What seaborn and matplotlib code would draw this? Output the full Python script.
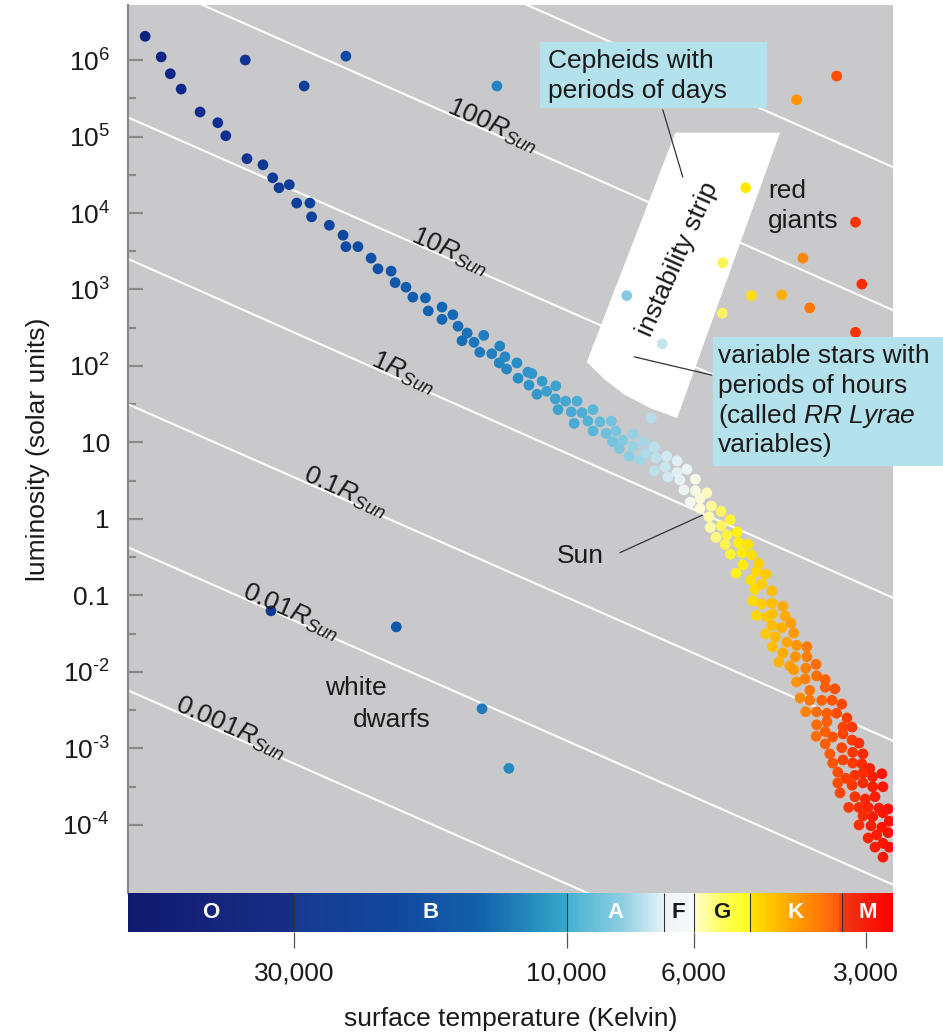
import numpy as np
import pandas as pd
import matplotlib
matplotlib.use("Agg")
import matplotlib.pyplot as plt
import seaborn as sns
from matplotlib.colors import LinearSegmentedColormap
from matplotlib.patches import Polygon, Rectangle
from matplotlib.ticker import FixedLocator, NullFormatter, NullLocator

# ---------------------------
# Data: log10(temperature / K) and log10(luminosity / L_sun)
# ---------------------------
ms_log_temp = [
    4.737, 4.709, 4.693, 4.674, 4.641, 4.610, 4.596, 4.559, 4.531, 4.514,
    4.503, 4.485, 4.472, 4.449, 4.446, 4.415, 4.391, 4.386, 4.365, 4.342,
    4.330, 4.307, 4.300, 4.281, 4.269, 4.247, 4.242, 4.218, 4.218, 4.199,
    4.190, 4.174, 4.183, 4.162, 4.145, 4.152, 4.131, 4.117, 4.118, 4.108,
    4.105, 4.087, 4.085, 4.068, 4.061, 4.066, 4.043, 4.052, 4.035, 4.019,
    4.020, 4.015, 4.002, 3.982, 3.992, 3.973, 3.954, 3.987, 3.963, 3.942,
    3.922, 3.954, 3.931, 3.914, 3.920, 3.902, 3.884, 3.908, 3.884, 3.865,
    3.891, 3.872, 3.862, 3.847, 3.844, 3.825, 3.807, 3.847, 3.828, 3.807,
    3.790, 3.823, 3.802, 3.775, 3.795, 3.775, 3.755, 3.784, 3.767, 3.747,
    3.767, 3.730, 3.751, 3.730, 3.714, 3.749, 3.739, 3.720, 3.702, 3.723,
    3.700, 3.683, 3.714, 3.694, 3.677, 3.704, 3.692, 3.664, 3.678, 3.668,
    3.652, 3.671, 3.659, 3.641, 3.675, 3.659, 3.641, 3.622, 3.668, 3.650,
    3.640, 3.618, 3.608, 3.641, 3.624, 3.603, 3.652, 3.635, 3.615, 3.598,
    3.580, 3.640, 3.622, 3.600, 3.580, 3.629, 3.610, 3.603, 3.582, 3.564,
    3.598, 3.583, 3.563, 3.548, 3.592, 3.575, 3.548, 3.531, 3.575, 3.554,
    3.536, 3.519, 3.582, 3.563, 3.545, 3.528, 3.510, 3.545, 3.563, 3.517,
    3.501, 3.564, 3.548, 3.535, 3.517, 3.501, 3.489, 3.548, 3.519, 3.500,
    3.482, 3.540, 3.535, 3.517, 3.500, 3.484, 3.470, 3.449, 3.526, 3.512,
    3.496, 3.482, 3.465, 3.526, 3.501, 3.482, 3.465, 3.447, 3.522, 3.496,
    3.478, 3.461, 3.507, 3.489, 3.473, 3.454, 3.438, 3.482, 3.465, 3.447,
    3.436, 3.489, 3.468, 3.449, 3.473, 3.458, 3.438, 3.461, 3.447, 3.436,
    3.447,
]
ms_log_lum = [
    6.31, 6.04, 5.82, 5.62, 5.32, 5.18, 5.01, 4.71, 4.63, 4.46,
    4.33, 4.37, 4.13, 4.13, 3.95, 3.84, 3.71, 3.56, 3.56, 3.41,
    3.27, 3.24, 3.09, 3.03, 2.90, 2.89, 2.72, 2.77, 2.61, 2.67,
    2.52, 2.43, 2.33, 2.31, 2.40, 2.18, 2.16, 2.26, 2.04, 2.12,
    1.96, 2.04, 1.84, 1.92, 1.90, 1.75, 1.80, 1.63, 1.67, 1.74,
    1.57, 1.43, 1.54, 1.54, 1.40, 1.39, 1.43, 1.25, 1.28, 1.27,
    1.28, 1.15, 1.12, 1.15, 1.01, 1.03, 1.11, 0.92, 0.95, 1.01,
    0.82, 0.77, 0.86, 0.94, 0.80, 0.82, 0.76, 0.63, 0.68, 0.61,
    0.65, 0.55, 0.51, 0.52, 0.38, 0.37, 0.34, 0.22, 0.27, 0.17,
    0.14, 0.10, 0.03, -0.09, -0.01, -0.11, -0.24, -0.21, -0.17, -0.33,
    -0.31, -0.33, -0.46, -0.44, -0.47, -0.71, -0.60, -0.58, -0.80, -0.69,
    -0.72, -0.92, -0.85, -0.94, -1.07, -1.11, -1.10, -1.14, -1.26, -1.28,
    -1.24, -1.27, -1.36, -1.39, -1.42, -1.49, -1.50, -1.54, -1.61, -1.65,
    -1.67, -1.67, -1.75, -1.80, -1.80, -1.87, -1.92, -1.97, -1.95, -1.90,
    -2.13, -2.09, -2.05, -2.10, -2.34, -2.24, -2.20, -2.22, -2.37, -2.37,
    -2.37, -2.42, -2.52, -2.52, -2.54, -2.54, -2.60, -2.65, -2.69, -2.72,
    -2.72, -2.84, -2.78, -2.85, -2.81, -2.89, -2.93, -2.94, -2.99, -3.05,
    -3.07, -3.07, -3.19, -3.15, -3.19, -3.20, -3.26, -3.33, -3.31, -3.39,
    -3.35, -3.32, -3.37, -3.45, -3.48, -3.45, -3.50, -3.50, -3.58, -3.63,
    -3.66, -3.63, -3.77, -3.77, -3.77, -3.78, -3.79, -3.88, -3.89, -3.84,
    -3.95, -4.00, -4.01, -4.03, -4.17, -4.13, -4.10, -4.29, -4.24, -4.29,
    -4.42,
]

supergiant_log_temp = [4.562, 4.459, 4.386, 4.122]
supergiant_log_lum = [6.00, 5.66, 6.05, 5.66]

giant_log_temp = [3.528, 3.598, 3.687, 3.495, 3.587, 3.727, 3.484, 3.677,
                  3.624, 3.728, 3.575, 3.495, 3.895, 3.833, 3.852]
giant_log_lum = [5.79, 5.48, 4.33, 3.88, 3.41, 3.35, 3.07, 2.92,
                 2.93, 2.69, 2.76, 2.44, 2.92, 2.29, 1.32]

dwarf_log_temp = [4.517, 4.298, 4.148, 4.101]
dwarf_log_lum = [-1.20, -1.41, -2.48, -3.26]

# lines of constant radius: log L at the hot and cool ends of the axis
radius_names = ["1000", "100", "10", "1", "0.1", "0.01", "0.001"]
radius_lum_hot = [9.03, 7.15, 5.25, 3.40, 1.50, -0.37, -2.24]
radius_lum_cool = [4.60, 2.73, 0.85, -1.03, -2.90, -4.78, -6.65]
radius_label_temp = [None, 4.134, 4.209, 4.291, 4.391, 4.487, 4.592]

log_temp_range = [4.767, 3.4295]
log_lum_range = [-4.889, 6.719]

lum_ticks = list(range(-4, 7))
lum_tick_labels = ["$10^{\u20104}$", "$10^{\u20103}$", "$10^{\u20102}$", "0.1", "1", "10",
                   "$10^{2}$", "$10^{3}$", "$10^{4}$", "$10^{5}$", "$10^{6}$"]

temp_ticks = [30000, 10000, 6000, 3000]
temp_tick_labels = ["30,000", "10,000", "6,000", "3,000"]

spectral_classes = ["O", "B", "A", "F", "G", "K", "M"]
spectral_edges = [30000, 10000, 6760, 6000, 4790, 3300]

strip_log_temp = [3.810, 3.627, 3.807, 3.854, 3.898, 3.933, 3.965]
strip_log_lum = [5.05, 5.05, 1.32, 1.45, 1.62, 1.82, 2.05]

# ---------------------------
# Style
# ---------------------------
sns.set_theme(style="white")
plt.rcParams["font.family"] = ["Liberation Sans", "DejaVu Sans"]
plt.rcParams["mathtext.fontset"] = "custom"
plt.rcParams["mathtext.rm"] = "Liberation Sans"
plt.rcParams["mathtext.it"] = "Liberation Sans:italic"
plt.rcParams["mathtext.bf"] = "Liberation Sans:bold"

TXT = "#1a1a1a"
GRAY_BG = "#c9c9cb"
BOX = "#b4e2ec"
FS = 19

t_hot, t_cool = log_temp_range
span = t_hot - t_cool


def stops_cmap(name, stops):
    pos = [(t - t_cool) / span for t, _ in stops]
    pos[0], pos[-1] = 0.0, 1.0
    return LinearSegmentedColormap.from_list(name, list(zip(pos, [c for _, c in stops])))


star_cmap = stops_cmap("stars", [
    (3.4295, "#ff0d00"), (3.470, "#ff2200"), (3.522, "#ff4a00"), (3.575, "#ff7a00"),
    (3.618, "#ffaa00"), (3.662, "#ffd400"), (3.697, "#fff000"), (3.732, "#fff56a"),
    (3.758, "#fffbc8"), (3.784, "#f2f6f2"), (3.811, "#dceef3"), (3.854, "#b0dce9"),
    (3.907, "#7cc6e0"), (3.977, "#4aaed6"), (4.082, "#2a8fc6"), (4.204, "#1569b5"),
    (4.379, "#0c4aa3"), (4.554, "#0c3593"), (4.767, "#0b1f80"),
])

bar_cmap = stops_cmap("spectral", [
    (3.4295, "#ff0000"), (3.518, "#ee3a14"), (3.520, "#ff5a10"), (3.600, "#ffa000"),
    (3.679, "#ffe600"), (3.681, "#ffff20"), (3.720, "#ffff50"), (3.777, "#ffffd0"),
    (3.779, "#f6f9f9"), (3.829, "#eef5f7"), (3.831, "#e4f2f6"), (3.900, "#8fcfe2"),
    (3.999, "#46b0d2"), (4.001, "#35a8cc"), (4.150, "#1262aa"), (4.300, "#11489e"),
    (4.476, "#163a90"), (4.478, "#172e86"), (4.767, "#111a6e"),
])

# ---------------------------
# Figure layout
# ---------------------------
W, H = 943, 1033
fig = plt.figure(figsize=(W / 100, H / 100), dpi=100, facecolor="white")
ax = fig.add_axes([128 / W, 1 - 893 / H, 765 / W, 888 / H])
ax_bar = fig.add_axes([128 / W, 1 - 932 / H, 765 / W, 39 / H])

# ---------------------------
# Stars
# ---------------------------
stars = pd.DataFrame({
    "log_temp": ms_log_temp + supergiant_log_temp + giant_log_temp + dwarf_log_temp,
    "log_lum": ms_log_lum + supergiant_log_lum + giant_log_lum + dwarf_log_lum,
})
stars["temp"] = 10 ** stars["log_temp"]
stars["lum"] = 10 ** stars["log_lum"]

sns.scatterplot(data=stars, x="temp", y="lum", hue="log_temp", palette=star_cmap,
                hue_norm=(t_cool, t_hot), s=60, linewidth=0, legend=False,
                ax=ax, zorder=3)

ax.set_xscale("log")
ax.set_yscale("log")
ax.set_xlim(10 ** t_hot, 10 ** t_cool)
ax.set_ylim(10 ** log_lum_range[0], 10 ** log_lum_range[1])
ax.set_facecolor(GRAY_BG)

# ---------------------------
# Constant radius lines
# ---------------------------
for name, lh, lc, lt in zip(radius_names, radius_lum_hot, radius_lum_cool, radius_label_temp):
    ax.plot([10 ** t_hot, 10 ** t_cool], [10 ** lh, 10 ** lc], color="white", lw=1.5, zorder=1)
    if lt is None:
        continue
    ll = lh + (lc - lh) * (t_hot - lt) / span
    p0 = ax.transData.transform((10 ** t_hot, 10 ** lh))
    p1 = ax.transData.transform((10 ** t_cool, 10 ** lc))
    ang = np.degrees(np.arctan2(p1[1] - p0[1], p1[0] - p0[0]))
    ax.text(10 ** lt, 10 ** ll, r"$\mathit{%sR}_{\mathit{Sun}}$" % name, rotation=ang,
            rotation_mode="anchor", ha="center", va="baseline", fontsize=FS,
            color=TXT, zorder=5)

# ---------------------------
# Instability strip and callouts
# ---------------------------
ax.add_patch(Polygon(list(zip(10 ** np.array(strip_log_temp), 10 ** np.array(strip_log_lum))),
                     closed=True, fc="white", ec="none", zorder=2))
ax.text(10 ** 3.806, 10 ** 3.40, "instability strip", rotation=66, rotation_mode="anchor",
        ha="center", va="center", fontsize=FS, color=TXT, zorder=5)


def box(tl, tr, lb, lt):
    ax.add_patch(Rectangle((10 ** tr, 10 ** lb), 10 ** tl - 10 ** tr, 10 ** lt - 10 ** lb,
                           fc=BOX, ec="none", zorder=4, clip_on=False))


box(4.047, 3.650, 5.37, 6.24)
box(3.744, 3.342, 0.69, 2.38)

leaders = [([3.832, 3.797], [5.35, 4.47]),
           ([3.882, 3.746], [2.12, 1.88]),
           ([3.907, 3.763], [-0.44, 0.05])]
for lt, ll in leaders:
    ax.plot(10 ** np.array(lt), 10 ** np.array(ll), color="#333333", lw=0.9, zorder=3.5)

notes = [("Cepheids with", 4.033, 5.90), ("periods of days", 4.033, 5.50),
         ("variable stars with", 3.736, 2.04), ("periods of hours", 3.736, 1.65),
         (r"(called $\mathit{RR\ Lyrae}$", 3.736, 1.25), ("variables)", 3.736, 0.88),
         ("red", 3.648, 4.20), ("giants", 3.648, 3.80),
         ("white", 4.422, -2.30), ("dwarfs", 4.374, -2.72),
         ("Sun", 4.017, -0.58)]
for s, lt, ll in notes:
    ax.text(10 ** lt, 10 ** ll, s, ha="left", va="baseline", fontsize=FS,
            color=TXT, zorder=5)

# ---------------------------
# Axes and ticks
# ---------------------------
ax.xaxis.set_major_locator(NullLocator())
ax.xaxis.set_minor_locator(NullLocator())
ax.yaxis.set_major_locator(FixedLocator([10.0 ** k for k in lum_ticks]))
ax.set_yticklabels(lum_tick_labels)
ax.yaxis.set_minor_locator(FixedLocator([10.0 ** (k + 0.5) for k in lum_ticks[:-1]]))
ax.yaxis.set_minor_formatter(NullFormatter())
ax.tick_params(axis="y", which="major", direction="in", length=10.5, width=1.6,
               color="#8a8a8a", pad=13, labelsize=FS, labelcolor=TXT, left=True)
ax.tick_params(axis="y", which="minor", direction="in", length=5.5, width=1.6,
               color="#8a8a8a", left=True)
for side in ["top", "right", "bottom"]:
    ax.spines[side].set_visible(False)
ax.spines["left"].set_color("#8a8a8a")
ax.spines["left"].set_linewidth(1.6)
ax.set_xlabel("")
ax.set_ylabel("luminosity (solar units)", fontsize=FS, color=TXT, labelpad=9)

# ---------------------------
# Spectral class bar
# ---------------------------
edges_log = np.linspace(t_cool, t_hot, 700)
mid = (edges_log[:-1] + edges_log[1:]) / 2
ax_bar.pcolormesh(10 ** edges_log, [0, 1], ((mid - t_cool) / span)[None, :],
                  cmap=bar_cmap, vmin=0, vmax=1, shading="flat")
ax_bar.set_xscale("log")
ax_bar.set_xlim(10 ** t_hot, 10 ** t_cool)
ax_bar.set_ylim(0, 1)
ax_bar.vlines(spectral_edges, 0, 1, colors="#333333", lw=0.8)

bounds = [10 ** t_hot] + spectral_edges + [10 ** t_cool]
for i, cls in enumerate(spectral_classes):
    xc = np.sqrt(bounds[i] * bounds[i + 1])
    ax_bar.text(xc, 0.5, cls, ha="center", va="center", fontsize=16, fontweight="bold",
                color=TXT if cls in ("F", "G") else "white")

ax_bar.xaxis.set_major_locator(FixedLocator(temp_ticks))
ax_bar.set_xticklabels(temp_tick_labels)
ax_bar.xaxis.set_minor_locator(NullLocator())
ax_bar.set_yticks([])
ax_bar.tick_params(axis="x", which="major", direction="out", length=11.5, width=0.9,
                   color="#555555", pad=10, labelsize=FS, labelcolor=TXT, bottom=True)
for side in ax_bar.spines:
    ax_bar.spines[side].set_visible(False)
ax_bar.set_xlabel("surface temperature (Kelvin)", fontsize=FS, color=TXT, labelpad=15)

fig.savefig("out.png", dpi=100)
